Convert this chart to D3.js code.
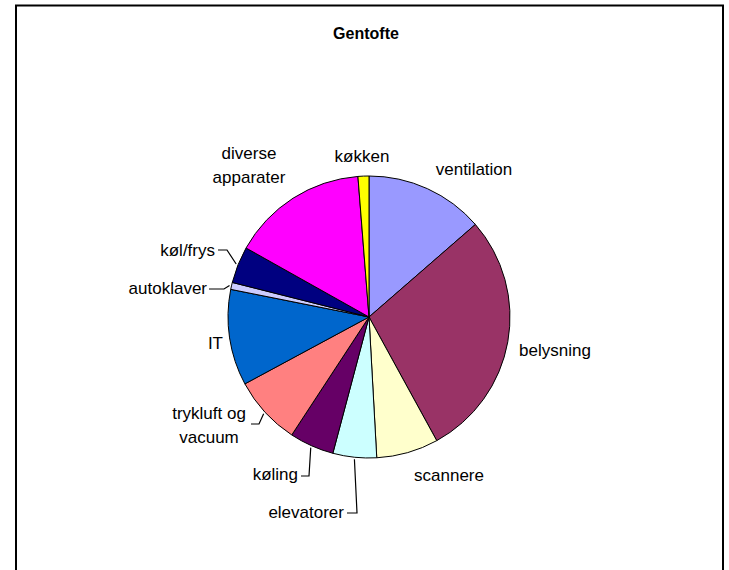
<!DOCTYPE html>
<html>
<head>
<meta charset="utf-8">
<script src="https://cdn.jsdelivr.net/npm/d3@7"></script>
<style>
  body { margin: 0; background: #fff; }
  text { font-family: "Liberation Sans", Arial, sans-serif; fill: #000; }
</style>
</head>
<body>
<div id="chart"></div>
<script>
// data (share of consumption, %)
const categories = ['ventilation', 'belysning', 'scannere', 'elevatorer', 'køling',
    'trykluft og vacuum', 'IT', 'autoklaver', 'køl/frys', 'diverse apparater', 'køkken'];
const values = [13.6, 28.4, 7.1, 5.0, 5.1, 7.9, 11.0, 0.8, 4.2, 15.6, 1.25];
const colors = ['#9999FF', '#993366', '#FFFFCC', '#CCFFFF', '#660066',
    '#FF8080', '#0066CC', '#CCCCFF', '#000080', '#FF00FF', '#FFFF00'];
const labelLines = [['ventilation'], ['belysning'], ['scannere'], ['elevatorer'], ['køling'],
    ['trykluft og', 'vacuum'], ['IT'], ['autoklaver'], ['køl/frys'], ['diverse', 'apparater'], ['køkken']];
const title = 'Gentofte';

// layout
const width = 729, height = 570;
const cx = 369, cy = 317, radius = 141;

// label placement relative to pie centre: [dx, dy, anchor, leader elbow dx, leader dy]
const labelPos = {
    'ventilation': [105, -142, 'middle'],
    'belysning': [186, 39, 'middle'],
    'scannere': [80, 164, 'middle'],
    'elevatorer': [-25, 201, 'end', -12, 196],
    'køling': [-71, 163, 'end', -60, 159],
    'trykluft og vacuum': [-160, 102, 'middle', -110, 107],
    'IT': [-146, 32, 'end'],
    'autoklaver': [-162, -23, 'end', -145, -28],
    'køl/frys': [-154, -61, 'end', -142, -67],
    'diverse apparater': [-120, -158, 'middle'],
    'køkken': [-7, -155, 'middle']
};
const textRight = { // where the leader line leaves the text
    'elevatorer': -22, 'køling': -68, 'trykluft og vacuum': -118,
    'autoklaver': -160, 'køl/frys': -151
};

const svg = d3.select('#chart').append('svg')
    .attr('width', width)
    .attr('height', height);

// chart frame
svg.append('rect')
    .attr('x', 16).attr('y', 5.5)
    .attr('width', 707).attr('height', 600)
    .attr('fill', 'none')
    .attr('stroke', '#000')
    .attr('stroke-width', 2);

svg.append('text')
    .attr('x', 366).attr('y', 39)
    .attr('text-anchor', 'middle')
    .style('font-size', '16px')
    .style('font-weight', 'bold')
    .text(title);

const data = categories.map((c, i) => ({ name: c, value: values[i], color: colors[i], lines: labelLines[i] }));

const pie = d3.pie().sort(null).value(d => d.value);
const arcs = pie(data);
const arc = d3.arc().innerRadius(0).outerRadius(radius);

const g = svg.append('g').attr('transform', `translate(${cx},${cy})`);

g.selectAll('path.slice')
    .data(arcs)
    .join('path')
    .attr('class', 'slice')
    .attr('d', arc)
    .attr('fill', d => d.data.color)
    .attr('stroke', '#000')
    .attr('stroke-width', 1);

// labels
arcs.forEach(d => {
    const p = labelPos[d.data.name];
    const t = g.append('text')
        .attr('text-anchor', p[2])
        .style('font-size', '17px');
    d.data.lines.forEach((ln, k) => {
        t.append('tspan')
            .attr('x', p[0])
            .attr('y', p[1] + k * 24)
            .text(ln);
    });

    if (p.length > 3) {
        // leader line from the slice edge at its mid angle
        const mid = (d.startAngle + d.endAngle) / 2;
        const edge = [Math.sin(mid) * (radius + 2), -Math.cos(mid) * (radius + 2)];
        const pts = [[textRight[d.data.name], p[4]], [p[3], p[4]], edge];
        g.append('path')
            .attr('d', d3.line()(pts))
            .attr('fill', 'none')
            .attr('stroke', '#000')
            .attr('stroke-width', 1.2);
    }
});
</script>
</body>
</html>
